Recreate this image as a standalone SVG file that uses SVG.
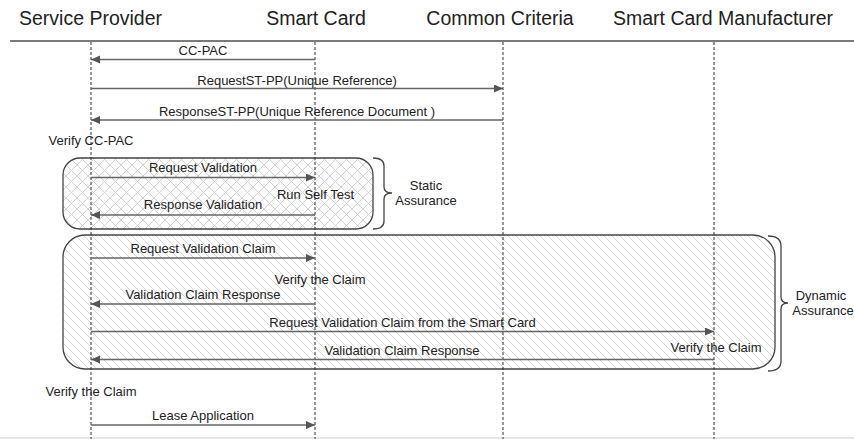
<svg xmlns="http://www.w3.org/2000/svg" width="854" height="439" viewBox="0 0 854 439">
<style>
.hdr{font-family:"Liberation Sans",Arial,sans-serif;font-size:19.5px;fill:#222;text-anchor:middle}
.lbl{font-family:"Liberation Sans",Arial,sans-serif;font-size:13px;fill:#222;text-anchor:middle}
.life{stroke:#333;stroke-width:1;stroke-dasharray:3,2;fill:none}
.msg{stroke:#666;stroke-width:1.6;fill:none;marker-end:url(#ah)}
.box{stroke:#444;stroke-width:1.3}
.brace{stroke:#444;stroke-width:1.3;fill:none}
</style>
<defs>
<marker id="ah" markerUnits="userSpaceOnUse" markerWidth="10" markerHeight="10" refX="9" refY="4" orient="auto">
<path d="M0,0 L9,4 L0,8 z" fill="#555"/>
</marker>
<pattern id="cross" patternUnits="userSpaceOnUse" width="11" height="11">
<path d="M0,0 L11,11 M11,0 L0,11" stroke="#d2d2d2" stroke-width="1" fill="none"/>
</pattern>
<pattern id="diag" patternUnits="userSpaceOnUse" width="8" height="8">
<path d="M0,0 L8,8 M-1,7 L1,9 M7,-1 L9,1" stroke="#d6d6d6" stroke-width="1" fill="none"/>
</pattern>
</defs>
<rect width="854" height="439" fill="#fff"/>
<rect x="0" y="437" width="854" height="2" fill="#e6e6e6"/>

<g id="header">
<line x1="10" y1="41" x2="854" y2="41" stroke="#7a7a7a" stroke-width="2"/>
</g>

<g id="static-assurance">
<rect class="box" x="63" y="158" width="310" height="71" rx="17" fill="url(#cross)"/>
<path class="brace" d="M373,158 Q384,158 384,166 L384,187 Q384,193 392,193 Q384,193 384,199 L384,221 Q384,229 373,229"/>
<text class="lbl" x="426" y="190">Static</text>
<text class="lbl" x="426" y="205">Assurance</text>
</g>

<g id="dynamic-assurance">
<rect class="box" x="63" y="235" width="712" height="134" rx="22" fill="url(#diag)"/>
<path class="brace" d="M768,236 Q781,236 781,246 L781,297 Q781,303 788,303 Q781,303 781,309 L781,361 Q781,371 768,371"/>
<text class="lbl" x="821" y="300">Dynamic</text>
<text class="lbl" x="823" y="315">Assurance</text>
</g>

<g id="service-provider">
<text class="hdr" x="90.5" y="25">Service Provider</text>
<line class="life" x1="91" y1="42" x2="91" y2="439"/>
<text class="lbl" x="91" y="145">Verify CC-PAC</text>
<text class="lbl" x="91" y="396">Verify the Claim</text>
</g>

<g id="smart-card">
<text class="hdr" x="316" y="25">Smart Card</text>
<line class="life" x1="315" y1="42" x2="315" y2="439"/>
<text class="lbl" x="315.5" y="199">Run Self Test</text>
<text class="lbl" x="320" y="284">Verify the Claim</text>
</g>

<g id="common-criteria">
<text class="hdr" x="500" y="25">Common Criteria</text>
<line class="life" x1="503" y1="42" x2="503" y2="439"/>
</g>

<g id="smart-card-manufacturer">
<text class="hdr" x="723" y="25">Smart Card Manufacturer</text>
<line class="life" x1="714" y1="42" x2="714" y2="439"/>
<text class="lbl" x="716" y="352">Verify the Claim</text>
</g>

<g id="connectors">
<line class="msg" x1="315" y1="59.5" x2="91" y2="59.5"/>
<text class="lbl" x="203" y="55">CC-PAC</text>
<line class="msg" x1="91" y1="88.5" x2="503" y2="88.5"/>
<text class="lbl" x="297" y="85">RequestST-PP(Unique Reference)</text>
<line class="msg" x1="503" y1="120" x2="91" y2="120"/>
<text class="lbl" x="297" y="116">ResponseST-PP(Unique Reference Document )</text>
<line class="msg" x1="91" y1="177.5" x2="315" y2="177.5"/>
<text class="lbl" x="203" y="172">Request Validation</text>
<line class="msg" x1="315" y1="215" x2="91" y2="215"/>
<text class="lbl" x="203" y="209">Response Validation</text>
<line class="msg" x1="91" y1="258" x2="315" y2="258"/>
<text class="lbl" x="203" y="253">Request Validation Claim</text>
<line class="msg" x1="315" y1="304" x2="91" y2="304"/>
<text class="lbl" x="203" y="299">Validation Claim Response</text>
<line class="msg" x1="91" y1="331.5" x2="714" y2="331.5"/>
<text class="lbl" x="402.5" y="327">Request Validation Claim from the Smart Card</text>
<line class="msg" x1="714" y1="359.5" x2="91" y2="359.5"/>
<text class="lbl" x="402" y="355">Validation Claim Response</text>
<line class="msg" x1="91" y1="425" x2="315" y2="425"/>
<text class="lbl" x="203" y="420">Lease Application</text>
</g>
</svg>
